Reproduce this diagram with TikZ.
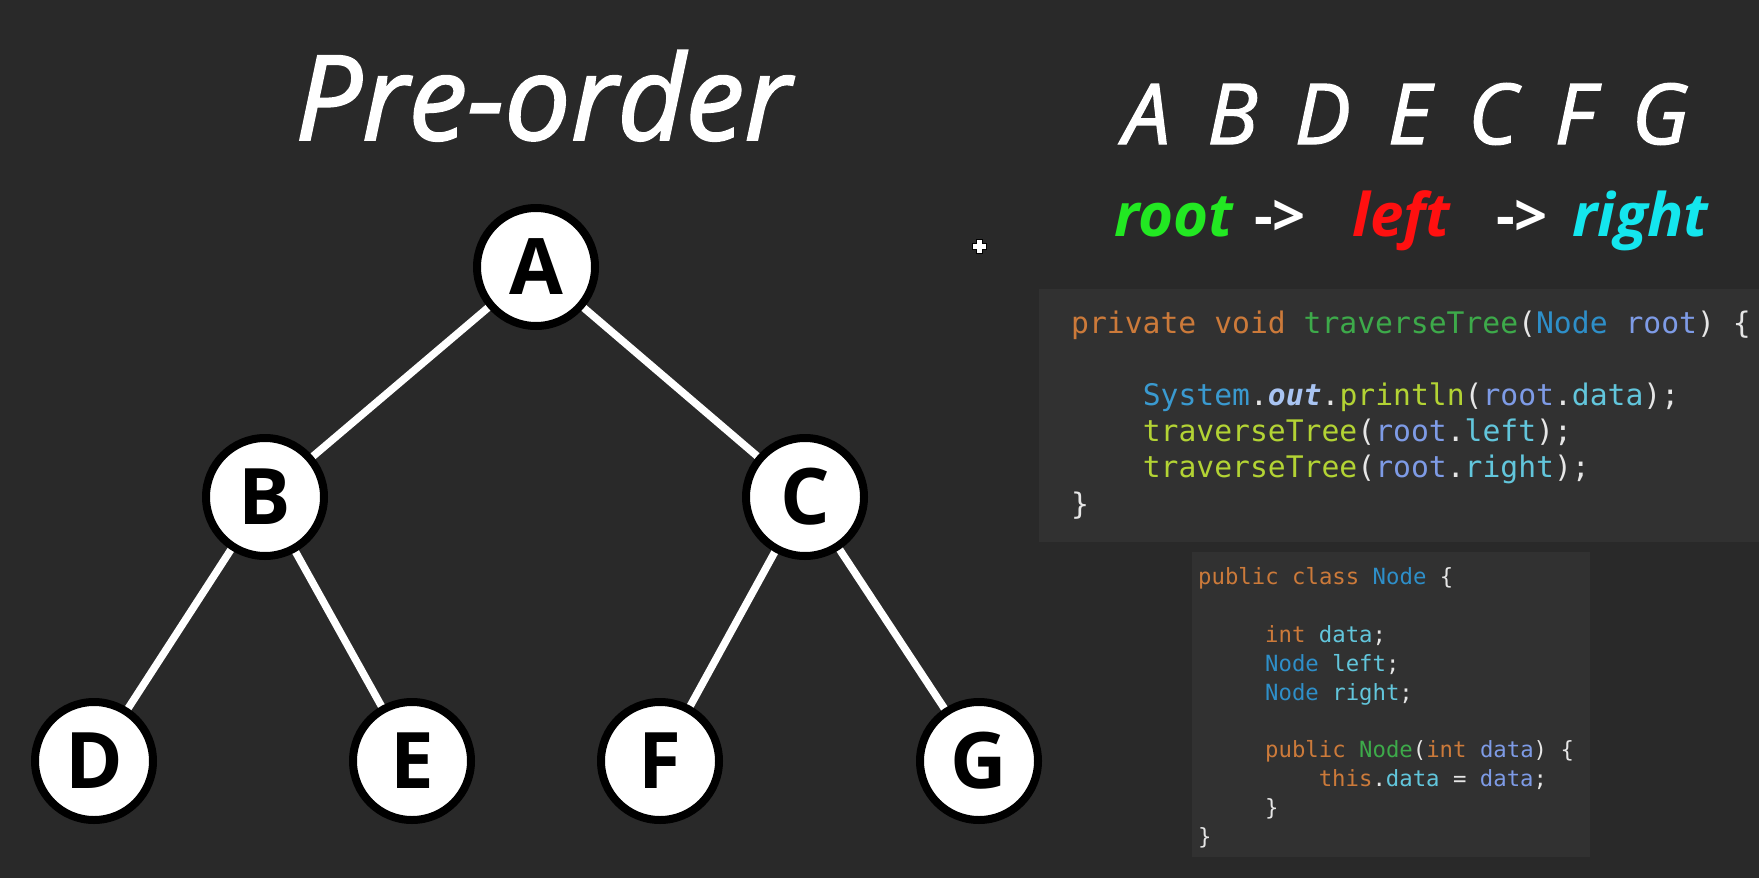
\documentclass[tikz,border=0pt]{standalone}
\usepackage{fontspec}
\setmainfont{Open Sans}
\setmonofont{DejaVu Sans Mono}
\newfontfamily\chalkfont{Open Sans}[ItalicFeatures={FakeBold=1.6}]
\usetikzlibrary{backgrounds}

% chalkboard and code colours
\definecolor{board}{HTML}{292929}
\definecolor{codebg}{HTML}{313131}
\definecolor{kwc}{HTML}{CC7A3A}
\definecolor{declc}{HTML}{3DAA4A}
\definecolor{callc}{HTML}{B3D334}
\definecolor{typc}{HTML}{2E8FC9}
\definecolor{parc}{HTML}{7E9BE6}
\definecolor{fldc}{HTML}{62C6DC}
\definecolor{punc}{HTML}{E6E6E6}
\definecolor{sysc}{HTML}{3A9AD0}
\definecolor{outc}{HTML}{A9C4F2}
\definecolor{rootc}{HTML}{22E822}
\definecolor{leftc}{HTML}{FF1010}
\definecolor{rightc}{HTML}{14E6EE}

\newcommand\ckw[1]{\textcolor{kwc}{#1}}
\newcommand\cdecl[1]{\textcolor{declc}{#1}}
\newcommand\ccall[1]{\textcolor{callc}{#1}}
\newcommand\ctyp[1]{\textcolor{typc}{#1}}
\newcommand\cpar[1]{\textcolor{parc}{#1}}
\newcommand\cfld[1]{\textcolor{fldc}{#1}}
\newcommand\csys[1]{\textcolor{sysc}{#1}}
\newcommand\cout[1]{\textcolor{outc}{\bfseries\itshape #1}}

\begin{document}
\begin{tikzpicture}[x=1pt,y=-1pt,
  tnode/.style={circle, draw=black, line width=8pt, fill=white,
    minimum size=118pt, inner sep=0pt, text=black,
    font=\fontsize{78}{78}\selectfont\bfseries},
  edge/.style={draw=white, line width=7.5pt},
  chalk/.style={text=white, inner sep=0pt, anchor=base},
  word/.style={chalk, anchor=base west,
    font=\fontsize{60}{60}\selectfont\bfseries\itshape},
  arrowtext/.style={chalk, anchor=base west,
    font=\fontsize{58}{58}\selectfont\bfseries},
  codeA/.style={anchor=base west, inner sep=0pt, text=punc,
    font=\ttfamily\fontsize{29.7}{36}\selectfont},
  codeB/.style={anchor=base west, inner sep=0pt, text=punc,
    font=\ttfamily\fontsize{22.3}{29}\selectfont},
  codebox/.style={fill=codebg, draw=none}
]
\useasboundingbox (0,0) rectangle (1759,878);

\begin{scope}[on background layer]
  \fill[board] (0,0) rectangle (1759,878);
\end{scope}

% title and traversal order
\node[chalk, font=\chalkfont\fontsize{118}{118}\selectfont\itshape] (title) at (543,140) {Pre-order};
\node[chalk, font=\chalkfont\fontsize{84}{84}\selectfont\itshape] (order) at (1406,144)
  {\spaceskip=37pt A B D E C F G};

\node[word, text=rootc] (w1) at (1114,236) {root};
\node[arrowtext] (a1) at (1254,236) {->};
\node[word, text=leftc] (w2) at (1352,236) {left};
\node[arrowtext] (a2) at (1496,236) {->};
\node[word, text=rightc] (w3) at (1572,236) {right};

% binary tree
\node[tnode] (A) at (536,267) {A};
\node[tnode] (B) at (265,497) {B};
\node[tnode] (C) at (805,497) {C};
\node[tnode] (D) at (94,761) {D};
\node[tnode] (E) at (412,761) {E};
\node[tnode] (F) at (660,761) {F};
\node[tnode] (G) at (979,761) {G};

\begin{scope}[on background layer]
  \draw[edge] (A.center) -- (B.center);
  \draw[edge] (A.center) -- (C.center);
  \draw[edge] (B.center) -- (D.center);
  \draw[edge] (B.center) -- (E.center);
  \draw[edge] (C.center) -- (F.center);
  \draw[edge] (C.center) -- (G.center);
\end{scope}

% mouse pointer
\draw[fill=white, draw=black, line width=1pt]
  (976,239) -- (982,239) -- (982,243) -- (986,243) -- (986,249) -- (982,249)
  -- (982,253) -- (976,253) -- (976,249) -- (972,249) -- (972,243) -- (976,243) -- cycle;

% traversal method
\begin{scope}[on background layer]
  \fill[codebox] (1039,289) rectangle (1759,542);
  \fill[codebox] (1192,552) rectangle (1590,857);
\end{scope}
\node[codeA] (c1) at (1071,333) {\ckw{private} \ckw{void} \cdecl{traverseTree}(\ctyp{Node} \cpar{root}) \{};
\node[codeA] (c2) at (1142.6,405) {\csys{System}.\cout{out}.\ccall{println}(\cpar{root}.\cfld{data});};
\node[codeA] (c3) at (1142.6,441) {\ccall{traverseTree}(\cpar{root}.\cfld{left});};
\node[codeA] (c4) at (1142.6,477) {\ccall{traverseTree}(\cpar{root}.\cfld{right});};
\node[codeA] (c5) at (1071,514) {\}};

% node class
\node[codeB] (d1) at (1198,584) {\ckw{public} \ckw{class} \ctyp{Node} \{};
\node[codeB] (d2) at (1265,642) {\ckw{int} \cfld{data};};
\node[codeB] (d3) at (1265,671) {\ctyp{Node} \cfld{left};};
\node[codeB] (d4) at (1265,700) {\ctyp{Node} \cfld{right};};
\node[codeB] (d5) at (1265,757) {\ckw{public} \cdecl{Node}(\ckw{int} \cpar{data}) \{};
\node[codeB] (d6) at (1318.6,786) {\ckw{this}.\cfld{data} = \cpar{data};};
\node[codeB] (d7) at (1265,815) {\}};
\node[codeB] (d8) at (1198,844) {\}};
\end{tikzpicture}
\end{document}
